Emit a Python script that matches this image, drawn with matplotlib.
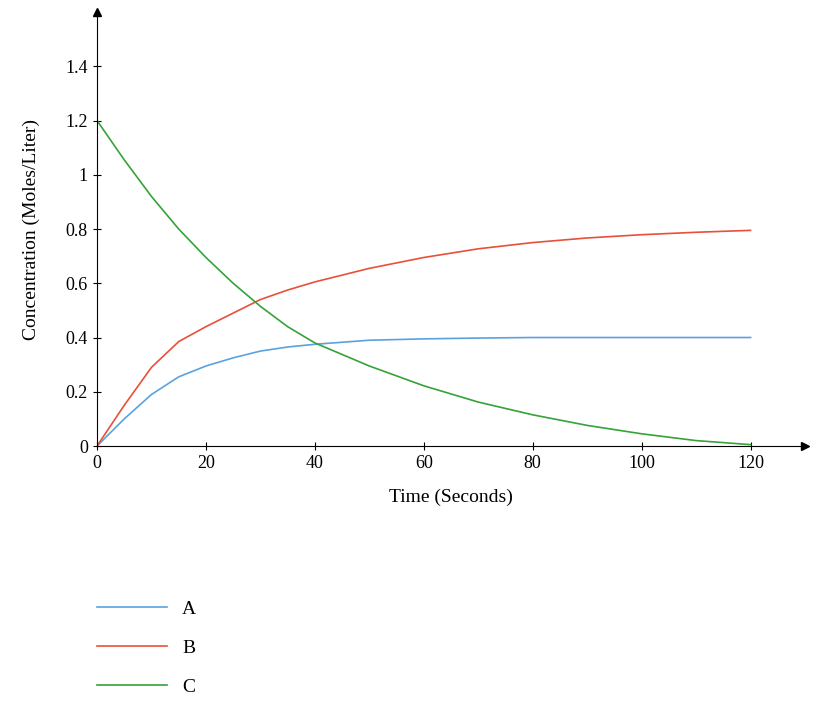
import matplotlib
matplotlib.use("Agg")
import matplotlib.pyplot as plt
from matplotlib.lines import Line2D

plt.rcParams["font.family"] = ["Liberation Serif", "DejaVu Serif"]

t = [0, 5, 10, 15, 20, 25, 30, 35, 40, 50, 60, 70, 80, 90, 100, 110, 120]
conc_a = [0, 0.10, 0.19, 0.255, 0.295, 0.325, 0.35, 0.365, 0.375, 0.39, 0.395, 0.398, 0.40, 0.40, 0.40, 0.40, 0.40]
conc_b = [0, 0.15, 0.29, 0.385, 0.44, 0.49, 0.54, 0.575, 0.605, 0.655, 0.695, 0.727, 0.75, 0.767, 0.779, 0.788, 0.795]
conc_c = [1.2, 1.055, 0.92, 0.8, 0.695, 0.6, 0.515, 0.44, 0.38, 0.295, 0.222, 0.162, 0.115, 0.076, 0.045, 0.02, 0.005]

fig = plt.figure(figsize=(8.32, 7.11), dpi=100)
ax = fig.add_axes([0.1166, 0.3727, 0.851, 0.6104])

c_a, c_b, c_c = "#5aa2e0", "#e8503a", "#35a23a"
ax.plot(t, conc_a, color=c_a, lw=1.2)
ax.plot(t, conc_b, color=c_b, lw=1.2)
ax.plot(t, conc_c, color=c_c, lw=1.2)

ax.set_xlim(0, 130)
ax.set_ylim(0, 1.6)
ax.set_xticks([0, 20, 40, 60, 80, 100, 120])
ax.set_yticks([0, 0.2, 0.4, 0.6, 0.8, 1, 1.2, 1.4])
ax.set_yticklabels(["0", "0.2", "0.4", "0.6", "0.8", "1", "1.2", "1.4"])
ax.tick_params(labelsize=13, direction="inout", length=6)
for s in ["top", "right"]:
    ax.spines[s].set_visible(False)
ax.plot(1, 0, ">k", transform=ax.transAxes, clip_on=False, ms=6)
ax.plot(0, 1, "^k", transform=ax.transAxes, clip_on=False, ms=6)

ax.set_xlabel("Time (Seconds)", fontsize=14, labelpad=12)
ax.set_ylabel("Concentration (Moles/Liter)", fontsize=14, labelpad=18)

handles = [Line2D([], [], color=c, lw=1.2) for c in (c_a, c_b, c_c)]
fig.legend(handles, ["A", "B", "C"], loc="upper left", bbox_to_anchor=(0.095, 0.18),
           frameon=False, handlelength=3.6, labelspacing=1.1, fontsize=14)

fig.savefig("out.png", dpi=100)
